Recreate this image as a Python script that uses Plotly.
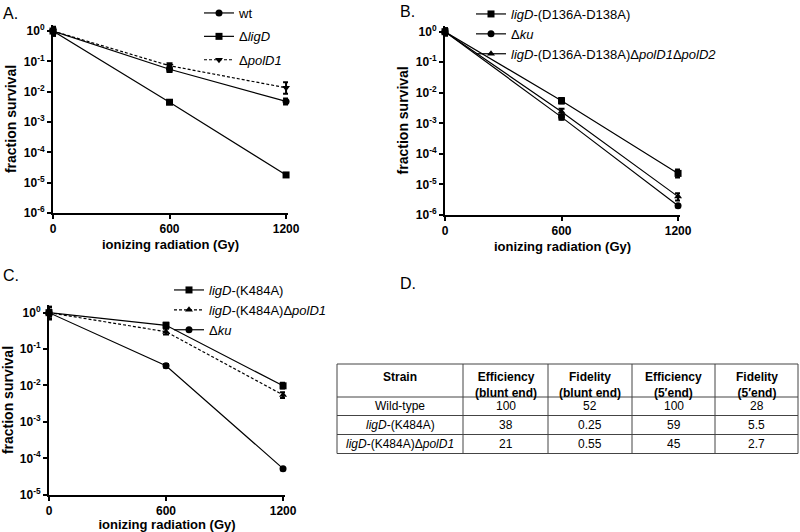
import plotly.graph_objects as go

W, H = 800, 532
FONT = "Arial, Liberation Sans, sans-serif"

# ---------------- data ----------------
dose = [0, 600, 1200]
dose_ticks = ["0", "600", "1200"]

# Panel A
A_names = ["wt", "Δ<i>ligD</i>", "Δ<i>polD1</i>"]
A_wt = [1.0, 0.055, 0.0048]
A_ligD = [1.0, 0.0045, 1.8e-5]
A_polD1 = [1.0, 0.072, 0.0135]
A_wt_up = [0.3, 0.012, 0.0012]
A_wt_dn = [0.25, 0.01, 0.001]
A_ligD_up = [0.4, 0.0008, 1.5e-6]
A_ligD_dn = [0.3, 0.0006, 1.5e-6]
A_polD1_up = [0.35, 0.015, 0.007]
A_polD1_dn = [0.3, 0.012, 0.005]

# Panel B
B_names = ["<i>ligD</i>-(D136A-D138A)", "Δ<i>ku</i>",
           "<i>ligD</i>-(D136A-D138A)Δ<i>polD1</i>Δ<i>polD2</i>"]
B_mut = [1.0, 0.0055, 2.3e-5]
B_ku = [1.0, 0.0016, 2.0e-6]
B_triple = [1.0, 0.0024, 4.0e-6]
B_mut_up = [0.3, 0.0012, 8e-6]
B_mut_dn = [0.25, 0.001, 6e-6]
B_ku_up = [0.25, 0.0003, 2e-7]
B_ku_dn = [0.2, 0.0003, 2e-7]
B_triple_up = [0.3, 0.0006, 1.2e-6]
B_triple_dn = [0.25, 0.0005, 1e-6]

# Panel C
C_names = ["<i>ligD</i>-(K484A)", "<i>ligD</i>-(K484A)Δ<i>polD1</i>", "Δ<i>ku</i>"]
C_K484A = [1.0, 0.45, 0.0098]
C_K484A_polD1 = [1.0, 0.30, 0.0055]
C_ku = [1.0, 0.035, 5.2e-5]
C_K484A_up = [0.5, 0.08, 0.002]
C_K484A_dn = [0.3, 0.06, 0.0015]
C_K484A_polD1_up = [0.4, 0.06, 0.001]
C_K484A_polD1_dn = [0.35, 0.05, 0.001]
C_ku_up = [0.2, 0.004, 5e-6]
C_ku_dn = [0.2, 0.004, 5e-6]

# Panel D table
D_header = ["<b>Strain</b>", "<b>Efficiency<br>(blunt end)</b>", "<b>Fidelity<br>(blunt end)</b>",
            "<b>Efficiency<br>(5′end)</b>", "<b>Fidelity<br>(5′end)</b>"]
D_strain = ["Wild-type", "<i>ligD</i>-(K484A)", "<i>ligD</i>-(K484A)Δ<i>polD1</i>"]
D_eff_blunt = ["100", "38", "21"]
D_fid_blunt = ["52", "0.25", "0.55"]
D_eff_5 = ["100", "59", "45"]
D_fid_5 = ["28", "5.5", "2.7"]


def px(x):
    return x / W


def py(y):
    return 1 - y / H


def log_ticks(lo):
    vals = [10.0 ** k for k in range(lo, 1)]
    txt = ["10<sup>%d</sup>" % k for k in range(lo, 1)]
    return vals, txt


fig = go.Figure()


def add(xa, ya, y, up, dn, name, symbol, dash, legend):
    fig.add_trace(go.Scatter(
        x=dose, y=y, name=name, xaxis=xa, yaxis=ya, mode="lines+markers",
        line=dict(color="black", width=1.2, dash=dash),
        marker=dict(color="black", symbol=symbol, size=7),
        error_y=dict(type="data", array=up, arrayminus=dn, color="black",
                     thickness=2, width=3),
        cliponaxis=False, legend=legend, legendgroup=name,
    ))


add("x", "y", A_wt, A_wt_up, A_wt_dn, A_names[0], "circle", "solid", "legend")
add("x", "y", A_ligD, A_ligD_up, A_ligD_dn, A_names[1], "square", "solid", "legend")
add("x", "y", A_polD1, A_polD1_up, A_polD1_dn, A_names[2], "triangle-down", "3px,2px", "legend")

add("x2", "y2", B_mut, B_mut_up, B_mut_dn, B_names[0], "square", "solid", "legend2")
add("x2", "y2", B_ku, B_ku_up, B_ku_dn, B_names[1], "circle", "solid", "legend2")
add("x2", "y2", B_triple, B_triple_up, B_triple_dn, B_names[2], "triangle-up", "solid", "legend2")

add("x3", "y3", C_K484A, C_K484A_up, C_K484A_dn, C_names[0], "square", "solid", "legend3")
add("x3", "y3", C_K484A_polD1, C_K484A_polD1_up, C_K484A_polD1_dn, C_names[1], "triangle-up", "3px,2px", "legend3")
add("x3", "y3", C_ku, C_ku_up, C_ku_dn, C_names[2], "circle", "solid", "legend3")

axis_common = dict(showgrid=False, zeroline=False, showline=True, linecolor="black",
                   linewidth=2, ticks="outside", ticklen=4, tickwidth=2, tickcolor="black",
                   automargin=False,
                   tickfont=dict(family=FONT, size=12, color="black", weight="bold"))

xt = dict(tickvals=dose, ticktext=dose_ticks, range=[0, 1210],
          title=dict(text="<b>ionizing radiation (Gy)</b>", font=dict(family=FONT, size=13, color="black"), standoff=4))


def yax(lo, domain):
    v, t = log_ticks(lo)
    return dict(type="log", range=[lo, 0.2], tickvals=v, ticktext=t, domain=domain,
                title=dict(text="<b>fraction survival</b>", font=dict(family=FONT, size=14, color="black"), standoff=4),
                **axis_common)


# panel positions (pixels)
A_x0, A_x1, A_ytop, A_ybot = 53, 288, 25, 213
B_x0, B_x1, B_ytop, B_ybot = 445, 680, 25.6, 215
C_x0, C_x1, C_ytop, C_ybot = 49, 285, 305.4, 494.7

fig.update_layout(
    width=W, height=H, margin=dict(l=0, r=0, t=0, b=0, autoexpand=False),
    paper_bgcolor="white", plot_bgcolor="white",
    font=dict(family=FONT, color="black"),
    xaxis=dict(domain=[px(A_x0), px(A_x1)], anchor="y", **xt, **axis_common),
    yaxis=yax(-6, [py(A_ybot), py(A_ytop)]) | dict(anchor="x"),
    xaxis2=dict(domain=[px(B_x0), px(B_x1)], anchor="y2", **xt, **axis_common),
    yaxis2=yax(-6, [py(B_ybot), py(B_ytop)]) | dict(anchor="x2"),
    xaxis3=dict(domain=[px(C_x0), px(C_x1)], anchor="y3", **xt, **axis_common),
    yaxis3=yax(-5, [py(C_ybot), py(C_ytop)]) | dict(anchor="x3"),
    legend=dict(x=px(199), y=py(-2), xanchor="left", yanchor="top", bgcolor="rgba(0,0,0,0)",
                font=dict(family=FONT, size=13, color="black"), itemwidth=30, tracegroupgap=3.5),
    legend2=dict(x=px(471), y=py(-1), xanchor="left", yanchor="top", bgcolor="rgba(0,0,0,0)",
                 font=dict(family=FONT, size=13, color="black"), itemwidth=30, tracegroupgap=0),
    legend3=dict(x=px(169), y=py(275), xanchor="left", yanchor="top", bgcolor="rgba(0,0,0,0)",
                 font=dict(family=FONT, size=13, color="black"), itemwidth=30, tracegroupgap=0),
    showlegend=True,
)

# panel letters
for txt, x, y in [("A.", 1, 14), ("B.", 398, 12), ("C.", 1, 275), ("D.", 398, 283)]:
    fig.add_annotation(text=txt, x=px(x), y=py(y), xref="paper", yref="paper",
                       xanchor="left", yanchor="middle", showarrow=False,
                       font=dict(family=FONT, size=16, color="black"))

# significance marker in panel B
fig.add_annotation(text="*", x=1256, y=-4.28, xref="x2", yref="y2", showarrow=False,
                   font=dict(family=FONT, size=12, color="black"))
fig.add_shape(type="line", x0=1256, x1=1256, y0=-4.65, y1=-5.42, xref="x2", yref="y2",
              line=dict(color="black", width=1))

# ---------------- table (panel D) ----------------
col_edges = [337, 463, 548, 632, 715, 798]
row_edges = [364, 397, 415.5, 434.5, 453.5]
LINE = dict(color="#444444", width=1)
for xe in col_edges:
    fig.add_shape(type="line", xref="paper", yref="paper", x0=px(xe), x1=px(xe),
                  y0=py(row_edges[0]), y1=py(row_edges[-1]), line=LINE)
for ye in row_edges:
    fig.add_shape(type="line", xref="paper", yref="paper", x0=px(col_edges[0]), x1=px(col_edges[-1]),
                  y0=py(ye), y1=py(ye), line=LINE)

columns = [D_strain, D_eff_blunt, D_fid_blunt, D_eff_5, D_fid_5]
for ci, head in enumerate(D_header):
    xc = (col_edges[ci] + col_edges[ci + 1]) / 2
    fig.add_annotation(text=head, x=px(xc), y=py(368), xref="paper", yref="paper",
                       xanchor="center", yanchor="top", showarrow=False, align="center",
                       font=dict(family=FONT, size=12, color="black"))
    for ri, val in enumerate(columns[ci]):
        yc = (row_edges[ri + 1] + row_edges[ri + 2]) / 2
        fig.add_annotation(text=val, x=px(xc), y=py(yc), xref="paper", yref="paper",
                           xanchor="center", yanchor="middle", showarrow=False,
                           font=dict(family=FONT, size=12, color="black"))

fig.write_html("out.html", config={"displayModeBar": False},
               post_script="document.body.style.margin='0';")
